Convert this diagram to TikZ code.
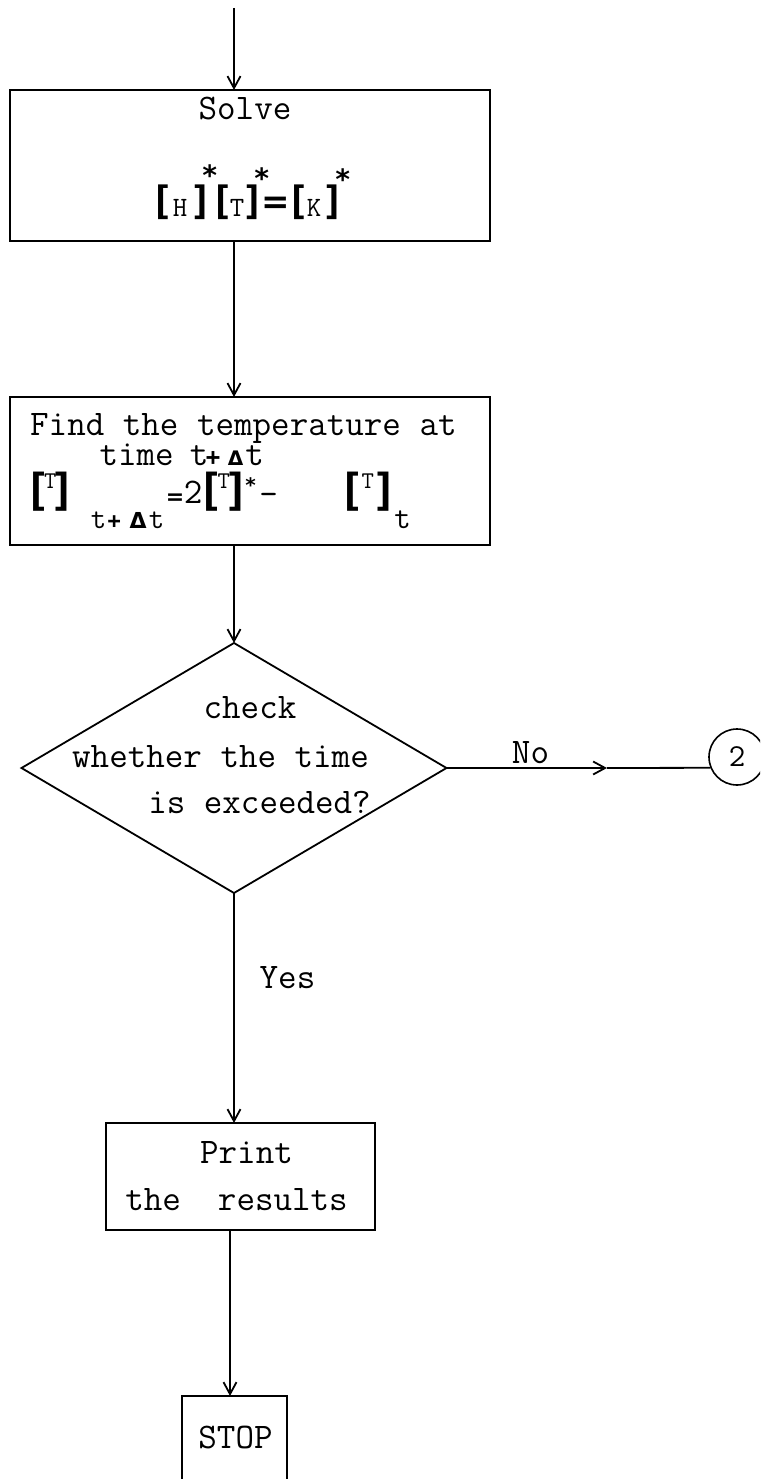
\documentclass[tikz,border=0pt]{standalone}
\usepackage{fontspec}
\newfontfamily\djm{DejaVu Sans Mono}
\newfontfamily\djs{DejaVu Sans}
\usetikzlibrary{arrows.meta,shapes.geometric}
\newcommand{\tsz}{\fontsize{36}{40}\selectfont\ttfamily}
% piece placed with its centre at absolute x (node origin at x=0), raised
\newcommand{\at}[3]{\rlap{\hspace*{#1pt}\makebox[0pt]{\raisebox{#2pt}{#3}}}}
\newcommand{\BRK}[2]{{\fontsize{#1}{#1}\selectfont\djm\bfseries #2}}
\newcommand{\DSB}[2]{{\fontsize{#1}{#1}\selectfont\djs\bfseries #2}}
\newcommand{\TT}[2]{{\fontsize{#1}{#1}\selectfont\ttfamily #2}}
\begin{document}
\begin{tikzpicture}[x=1pt,y=-1pt,
  box/.style={draw, line width=2pt, inner sep=0pt, outer sep=0pt},
  lbl/.style={inner sep=0pt, anchor=base, font=\tsz},
  row/.style={inner sep=0pt, anchor=base west},
  arr/.style={line width=1.8pt, -{Straight Barb[length=12pt,width=13pt]}},
  ln/.style={line width=1.8pt}]
\useasboundingbox (0,0) rectangle (760,1479);
\clip (0,0) rectangle (760,1479);

% shapes
\node[box, minimum width=480pt, minimum height=151pt] (b1) at (250,165.5) {};
\node[box, minimum width=480pt, minimum height=148pt] (b2) at (250,471) {};
\node[draw, diamond, line width=1.8pt, minimum width=425pt, minimum height=250pt, inner sep=0pt, outer sep=0pt] (dec) at (234,768) {};
\node[draw, circle, line width=1.6pt, minimum size=56pt, inner sep=0pt, font=\fontsize{32}{32}\selectfont\ttfamily] (c2) at (737,757) {2};
\node[box, minimum width=269pt, minimum height=107pt] (b3) at (240.5,1176.5) {};
\node[box, minimum width=105pt, minimum height=160pt] (b4) at (234.5,1476) {};

% connectors
\coordinate (sp) at (234,8);
\coordinate (sq) at (230,1300);
\coordinate (nomid) at (607,768);
\draw[arr] (sp) -- (sp |- b1.north);
\draw[arr] (b1.south -| sp) -- (b2.north -| sp);
\draw[arr] (b2.south -| sp) -- (dec.north);
\draw[arr] (dec.south) -- (b3.north -| dec.south);
\draw[arr] (b3.south -| sq) -- (b4.north -| sq);
\draw[arr] (dec.east) -- (nomid);
\draw[ln] (nomid) -- (c2.202);

% box 1
\node[lbl] (t1) at (245,120) {Solve};
\node[row] (eqa) at (0,217) {%
  \at{161.5}{2}{\BRK{39}{[}}\at{179.5}{0}{\TT{28}{H}}\at{201}{2}{\BRK{39}{]}}%
  \at{209}{31.5}{\BRK{28}{*}}%
  \at{221.5}{2}{\BRK{39}{[}}\at{236.5}{0}{\TT{28}{T}}\at{252.5}{2}{\BRK{39}{]}}%
  \at{261}{28.5}{\BRK{28}{*}}%
  \at{275}{3.5}{\DSB{34}{=}}%
  \at{298}{2}{\BRK{39}{[}}\at{313.5}{0}{\TT{28}{K}}\at{333}{2}{\BRK{39}{]}}%
  \at{342}{27.5}{\BRK{28}{*}}};

% box 2
\node[lbl, anchor=base west] (l1) at (30,435) {Find the temperature at};
\node[row] (l2) at (0,465) {%
  \at{136}{0}{\TT{36}{time}}\at{198.5}{0}{\TT{36}{t}}\at{212.5}{0}{\BRK{24}{+}}%
  \at{235}{0}{\DSB{20}{Δ}}\at{254}{0}{\TT{36}{t}}};
\node[row] (eqb) at (0,505) {%
  \at{37}{-0.4}{\BRK{44}{[}}\at{49.5}{17}{\TT{24}{T}}\at{62}{-0.4}{\BRK{44}{]}}%
  \at{174.5}{1}{\DSB{22}{=}}\at{192.5}{2}{\TT{36}{2}}%
  \at{210}{-0.4}{\BRK{44}{[}}\at{223}{17}{\TT{24}{T}}\at{236.5}{-0.4}{\BRK{44}{]}}%
  \at{250}{12.2}{\BRK{20}{*}}\at{268}{0}{\TT{36}{-}}%
  \at{351}{-0.4}{\BRK{44}{[}}\at{367}{17}{\TT{24}{T}}\at{384}{-0.4}{\BRK{44}{]}}};
\node[row] (eqc) at (0,528) {%
  \at{98}{0}{\TT{30}{t}}\at{113.5}{0}{\BRK{22}{+}}\at{137.5}{0}{\DSB{22}{Δ}}\at{156}{0}{\TT{30}{t}}%
  \at{402}{0}{\TT{32}{t}}};

% diamond text
\node[lbl] (d1) at (250,718) {check};
\node[lbl] (d2) at (220.5,767) {whether the time};
\node[lbl] (d3) at (259.5,813) {is exceeded?};
\node[lbl] (no) at (530.5,763) {No};
\node[lbl] (yes) at (287.5,988) {Yes};

% print / stop
\node[lbl] (p1) at (246.5,1163) {Print};
\node[lbl] (p2) at (236.5,1210) {the~~results};
\node[lbl] (st) at (235.5,1448) {STOP};
\end{tikzpicture}
\end{document}
